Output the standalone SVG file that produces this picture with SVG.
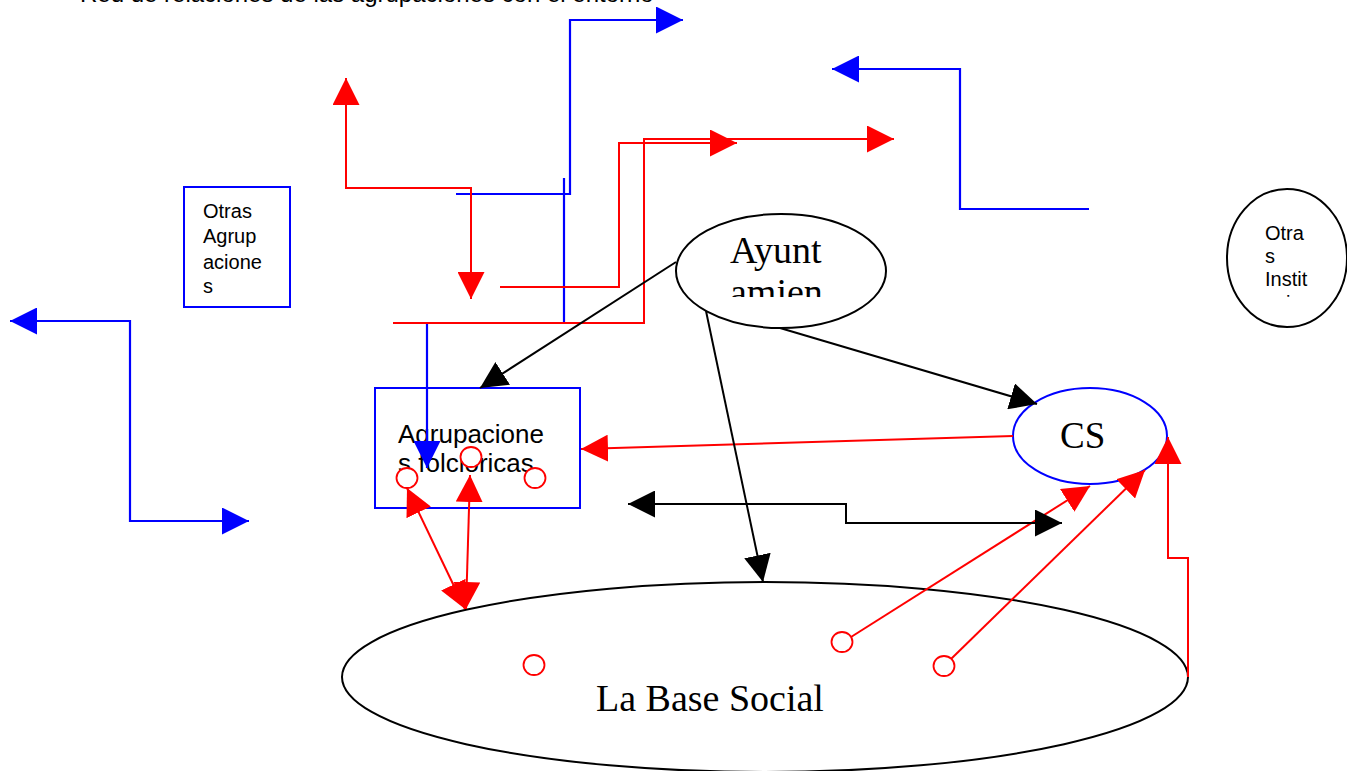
<svg xmlns="http://www.w3.org/2000/svg" width="1347" height="771" viewBox="0 0 1347 771">
<style>
.sans{font-family:"Liberation Sans",Arial,sans-serif;fill:#000}
.serif{font-family:"Liberation Serif","Times New Roman",serif;fill:#000}
.node{fill:#fff;stroke-width:2}
.blk{stroke:#000}
.blu{stroke:#00f}
.cb{fill:none;stroke:#00f;stroke-width:2.2}
.cr{fill:none;stroke:#f00;stroke-width:2}
.ck{fill:none;stroke:#000;stroke-width:2}
.dot{fill:#fff;stroke:#f00;stroke-width:1.8}
</style>
<defs>
<marker id="mb" markerWidth="27" markerHeight="27" refX="27" refY="13.5" orient="auto-start-reverse" markerUnits="userSpaceOnUse"><path d="M0,0 L27,13.5 L0,27 Z" fill="#00f"/></marker>
<marker id="mr" markerWidth="27" markerHeight="27" refX="27" refY="13.5" orient="auto-start-reverse" markerUnits="userSpaceOnUse"><path d="M0,0 L27,13.5 L0,27 Z" fill="#f00"/></marker>
<marker id="mk" markerWidth="27" markerHeight="27" refX="27" refY="13.5" orient="auto-start-reverse" markerUnits="userSpaceOnUse"><path d="M0,0 L27,13.5 L0,27 Z" fill="#000"/></marker>
<clipPath id="clipAyto"><rect x="600" y="200" width="300" height="97"/></clipPath>
<clipPath id="clipInst"><rect x="1200" y="200" width="147" height="99"/></clipPath>
</defs>
<rect width="1347" height="771" fill="#fff"/>

<g id="title">
<text class="sans" x="80" y="1.5" font-size="24">Red de relaciones de las agrupaciones con el entorno</text>
</g>

<g id="otras-agrupaciones">
<rect class="node blu" x="184" y="187" width="106" height="120"/>
<text class="sans" font-size="20"><tspan x="203" y="218">Otras</tspan><tspan x="203" y="243">Agrup</tspan><tspan x="203" y="269">acione</tspan><tspan x="203" y="293">s</tspan></text>
</g>

<g id="ayuntamiento">
<ellipse class="node blk" cx="781" cy="271" rx="105" ry="57"/>
<text class="serif" font-size="38" clip-path="url(#clipAyto)"><tspan x="730" y="263">Ayunt</tspan><tspan x="730" y="305">amien</tspan></text>
</g>

<g id="otras-instituciones">
<ellipse class="node blk" cx="1287" cy="258" rx="60" ry="69"/>
<text class="sans" font-size="20" clip-path="url(#clipInst)"><tspan x="1265" y="240">Otra</tspan><tspan x="1265" y="263">s</tspan><tspan x="1265" y="286">Instit</tspan><tspan x="1265" y="310">ucion</tspan></text>
</g>

<g id="agrupaciones-folcloricas">
<rect class="node blu" x="375" y="388" width="205" height="120"/>
<text class="sans" font-size="26"><tspan x="398" y="443">Agrupacione</tspan><tspan x="398" y="472">s folcloricas</tspan></text>
<ellipse class="dot" cx="407" cy="478" rx="10.5" ry="10"/>
<ellipse class="dot" cx="471" cy="457" rx="10.5" ry="10"/>
<ellipse class="dot" cx="535" cy="478" rx="10.5" ry="10"/>
</g>

<g id="cs">
<ellipse class="node blu" cx="1090" cy="436" rx="77" ry="48"/>
<text class="serif" font-size="37" x="1060" y="448">CS</text>
</g>

<g id="base-social">
<ellipse class="node blk" cx="765" cy="677" rx="423" ry="95"/>
<text class="serif" font-size="38" x="596" y="711">La Base Social</text>
<ellipse class="dot" cx="534" cy="665" rx="10.5" ry="10"/>
<ellipse class="dot" cx="842" cy="642" rx="10.5" ry="10"/>
<ellipse class="dot" cx="944" cy="666" rx="10.5" ry="10"/>
</g>

<g id="connectors">
<path class="cb" d="M456,194 H570 V20 H683" marker-end="url(#mb)"/>
<path class="cb" d="M564,178 V323 H427 V468" marker-end="url(#mb)"/>
<path class="cb" d="M1089,209 H960 V69 H832" marker-end="url(#mb)"/>
<path class="cb" d="M10,321 H130 V521 H249" marker-start="url(#mb)" marker-end="url(#mb)"/>

<path class="cr" d="M346,78 V188 H471 V299" marker-start="url(#mr)" marker-end="url(#mr)"/>
<path class="cr" d="M500,287 H619 V143 H737" marker-end="url(#mr)"/>
<path class="cr" d="M393,323 H644 V139 H894" marker-end="url(#mr)"/>
<path class="cr" d="M1013,436 L581,449" marker-end="url(#mr)"/>
<path class="cr" d="M407,488 L465,609" marker-start="url(#mr)" marker-end="url(#mr)"/>
<path class="cr" d="M470,475 L466,609" marker-start="url(#mr)" marker-end="url(#mr)"/>
<path class="cr" d="M851,637 L1090,486" marker-end="url(#mr)"/>
<path class="cr" d="M951,659 L1145,470" marker-end="url(#mr)"/>
<path class="cr" d="M1188,677 V558 H1168 V437" marker-end="url(#mr)"/>

<path class="ck" d="M676,262 L480,388" marker-end="url(#mk)"/>
<path class="ck" d="M780,328 L1037,404" marker-end="url(#mk)"/>
<path class="ck" d="M706,311 L763,582" marker-end="url(#mk)"/>
<path class="ck" d="M628,504 H846 V523 H1062" marker-start="url(#mk)" marker-end="url(#mk)"/>
</g>
</svg>
